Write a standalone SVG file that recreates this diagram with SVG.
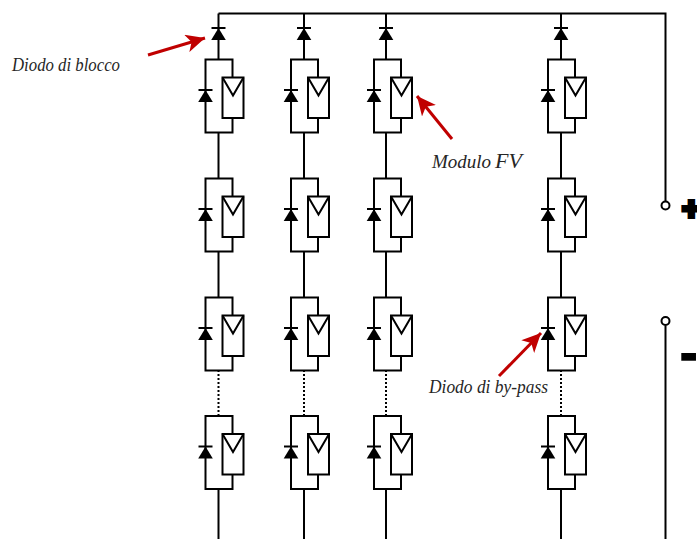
<svg xmlns="http://www.w3.org/2000/svg" width="697" height="539" viewBox="0 0 697 539">
<style>
.w{fill:none;stroke:#000;stroke-width:2}
.d{fill:none;stroke:#000;stroke-width:2;stroke-dasharray:2 2}
.t{font-family:"Liberation Serif",serif;font-style:italic;font-size:19px;fill:#262626}
.s{font-family:"Liberation Sans",sans-serif;font-weight:bold;fill:#000;stroke:#000}
.a{fill:none;stroke:#c00000;stroke-width:3}
</style>
<defs>
<marker id="ah" markerUnits="userSpaceOnUse" markerWidth="20" markerHeight="18" refX="19" refY="9" orient="auto"><path d="M0 0L19 9L0 18L5 9Z" fill="#c00000"/></marker>
<g id="dio"><path d="M-7-5.500H7" class="w"/><path d="M0-5.500L7.300 6.500H-7.300Z" fill="#000"/></g>
<g id="mod">
<path class="w" d="M27 18V0H0V73H27V58.500"/>
<use href="#dio" x="0" y="36"/>
<rect class="w" style="fill:#fff" x="17" y="18" width="21" height="40.500"/>
<path class="w" d="M17 18L27.500 36L38 18"/>
</g>
</defs>
<g id="connectors">
<path class="w" d="M218.500 39V59M304 39V59M386 39V59M561 39V59"/>
<path class="w" d="M218.500 13.500H665.500V201.500M218.500 13.500V30M304 13.500V30M386 13.500V30M561 13.500V30"/>
<path class="w" d="M218.500 132V178M304 132V178M386 132V178M561 132V178M218.500 251V297M304 251V297M386 251V297M561 251V297"/>
<path class="d" d="M218.500 370V416M304 370V416M386 370V416M561 370V416"/>
<path class="w" d="M218.500 488V539M304 488V539M386 488V539M561 488V539M665.500 325.500V539"/>
<path class="a" marker-end="url(#ah)" d="M148 55L205 38"/>
<path class="a" marker-end="url(#ah)" d="M452 139L417 96"/>
<path class="a" marker-end="url(#ah)" d="M499 376L541 333"/>
</g>
<g id="block-diodes"><use href="#dio" x="218.500" y="33.500"/><use href="#dio" x="304" y="33.500"/><use href="#dio" x="386" y="33.500"/><use href="#dio" x="561" y="33.500"/></g>
<g id="col1"><use href="#mod" x="205.500" y="59.500"/><use href="#mod" x="205.500" y="178.500"/><use href="#mod" x="205.500" y="297.500"/><use href="#mod" x="205.500" y="416"/></g>
<g id="col2"><use href="#mod" x="291" y="59.500"/><use href="#mod" x="291" y="178.500"/><use href="#mod" x="291" y="297.500"/><use href="#mod" x="291" y="416"/></g>
<g id="col3"><use href="#mod" x="374" y="59.500"/><use href="#mod" x="374" y="178.500"/><use href="#mod" x="374" y="297.500"/><use href="#mod" x="374" y="416"/></g>
<g id="col4"><use href="#mod" x="548" y="59.500"/><use href="#mod" x="548" y="178.500"/><use href="#mod" x="548" y="297.500"/><use href="#mod" x="548" y="416"/></g>
<g id="terminal-plus"><circle class="w" style="fill:#fff" cx="665.500" cy="205.500" r="4"/><text class="s" x="682" y="219" font-size="32" stroke-width="4">+</text></g>
<g id="terminal-minus"><circle class="w" style="fill:#fff" cx="665.500" cy="321" r="4"/><text class="s" x="680" y="369.500" font-size="52" stroke-width="1.500">-</text></g>
<g id="labels">
<text class="t" x="12" y="71" textLength="108" lengthAdjust="spacingAndGlyphs">Diodo di blocco</text>
<text class="t" x="432" y="168">Modulo <tspan x="495" style="font-size:22px">FV</tspan></text>
<text class="t" x="429" y="393" textLength="119" lengthAdjust="spacingAndGlyphs">Diodo di by-pass</text>
</g>
</svg>
